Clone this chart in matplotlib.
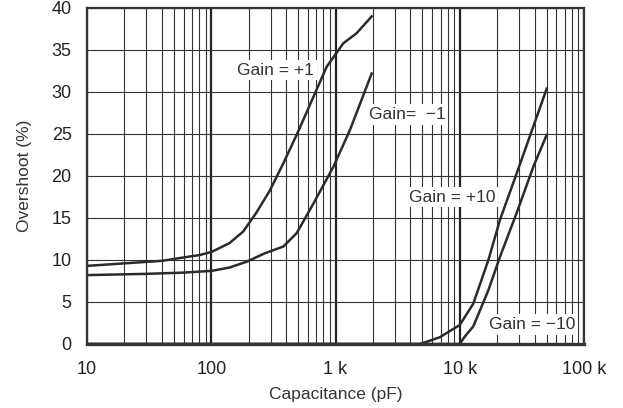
import matplotlib
matplotlib.use("Agg")
import matplotlib.pyplot as plt
from matplotlib.ticker import FixedLocator, LogLocator, NullFormatter

plt.rcParams['font.family'] = ['Liberation Sans', 'DejaVu Sans']

# overshoot curves
cap_g1 = [10, 20, 40, 81, 100, 140, 181, 230, 297, 380, 487, 663, 849, 990, 1156, 1480, 1955]
os_g1 = [9.3, 9.6, 9.9, 10.6, 10.95, 12.0, 13.4, 15.6, 18.3, 21.5, 24.9, 29.4, 33.0, 34.4, 35.8, 37.0, 39.0]

cap_gm1 = [10, 30, 60, 100, 140, 193, 270, 380, 487, 663, 962, 1309, 1955]
os_gm1 = [8.2, 8.35, 8.5, 8.7, 9.1, 9.8, 10.8, 11.6, 13.2, 16.7, 21.1, 25.5, 32.2]

cap_g10 = [10, 4800, 6900, 10000, 12850, 17000, 21100, 28700, 39100, 50100]
os_g10 = [0, 0, 0.8, 2.26, 4.8, 10.0, 14.8, 20.3, 25.9, 30.4]

cap_gm10 = [10, 10000, 11000, 12850, 17000, 21100, 28700, 39100, 50100]
os_gm10 = [0, 0, 0.9, 2.1, 6.4, 10.4, 15.6, 21.1, 24.9]

xticks = [10, 100, 1000, 10000, 100000]
xtick_labels = ['10', '100', '1 k', '10 k', '100 k']
yticks = [0, 5, 10, 15, 20, 25, 30, 35, 40]

fig = plt.figure(figsize=(6.23, 4.08), dpi=100)
ax = fig.add_axes([87 / 623, 1 - 344 / 408, (584 - 87) / 623, (344 - 8) / 408])

ax.set_xscale('log')
ax.set_xlim(10, 100000)
ax.set_ylim(0, 40)

ax.xaxis.set_major_locator(FixedLocator(xticks))
ax.set_xticklabels(xtick_labels)
ax.xaxis.set_minor_locator(LogLocator(base=10, subs=range(2, 10)))
ax.xaxis.set_minor_formatter(NullFormatter())
ax.set_yticks(yticks)

ax.grid(which='major', axis='x', color='#222222', lw=1.6)
ax.grid(which='minor', axis='x', color='#333333', lw=0.8)
ax.grid(which='major', axis='y', color='#333333', lw=0.8)
ax.tick_params(which='both', length=0, labelsize=13, colors='#222222')
ax.tick_params(axis='x', pad=12)
ax.tick_params(axis='y', pad=11)
for s in ax.spines.values():
    s.set_color('#333333')
    s.set_linewidth(1.6)
ax.spines['bottom'].set_linewidth(2.4)

lc = '#2b2b2b'
ax.plot(cap_g1, os_g1, color=lc, lw=1.8)
ax.plot(cap_gm1, os_gm1, color=lc, lw=1.8)
ax.plot(cap_g10, os_g10, color=lc, lw=1.8)
ax.plot(cap_gm10, os_gm10, color=lc, lw=1.8)

box = dict(facecolor='white', edgecolor='none', pad=2)
fs = 12.5
ax.text(330, 32.6, 'Gain = +1', ha='center', va='center', fontsize=fs, color='#333333', bbox=box)
ax.text(3760, 27.3, 'Gain=  \u22121', ha='center', va='center', fontsize=fs, color='#333333', bbox=box)
ax.text(8700, 17.5, 'Gain = +10', ha='center', va='center', fontsize=fs, color='#333333', bbox=box)
ax.text(38000, 2.3, 'Gain = \u221210', ha='center', va='center', fontsize=fs, color='#333333', bbox=box)

ax.set_xlabel('Capacitance (pF)', fontsize=12.5, color='#333333', labelpad=7)
ax.set_ylabel('Overshoot (%)', fontsize=12.5, color='#333333', labelpad=14)

fig.savefig('out.png', dpi=100)
